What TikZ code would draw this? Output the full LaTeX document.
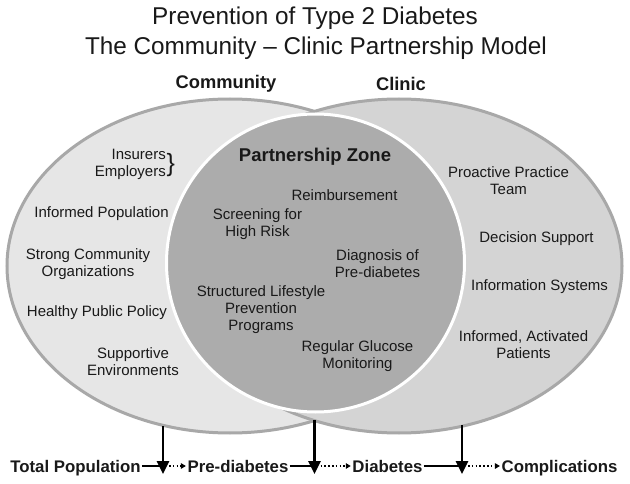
\documentclass[tikz,border=0pt]{standalone}
\usepackage{fontspec}
\setmainfont{Liberation Sans}
\usetikzlibrary{arrows.meta}
\definecolor{txt}{RGB}{25,25,25}
\definecolor{edgegray}{RGB}{168,168,168}
\definecolor{zonegray}{RGB}{172,172,172}
\definecolor{leftgray}{RGB}{230,230,230}
\definecolor{rightgray}{RGB}{212,212,212}
\begin{document}
\begin{tikzpicture}[x=1pt,y=-1pt,
  body/.style={font=\fontsize{15}{17}\selectfont, text=txt, align=center, inner sep=0pt},
  head/.style={font=\fontsize{18.5}{22}\selectfont\bfseries, text=txt, inner sep=0pt},
  title/.style={font=\fontsize{24.3}{29}\selectfont, text=txt, inner sep=0pt},
  stage/.style={font=\fontsize{16.8}{20}\selectfont\bfseries, text=txt, inner sep=0pt, anchor=base},
  downarrow/.style={line width=2.8pt, -{Triangle[width=12pt,length=13pt]}},
  solidlink/.style={line width=1.6pt},
  dotlink/.style={line width=1.4pt, dash pattern=on 1.6pt off 2.2pt, -{Triangle[width=5.5pt,length=5pt]}}]
\useasboundingbox (0,0) rectangle (630,484);
\fill[white] (0,0) rectangle (630,484);
% ellipses
\fill[leftgray] (230,266) ellipse [x radius=223, y radius=167];
\draw[edgegray, line width=3pt] (230,266) ellipse [x radius=223, y radius=167];
\fill[rightgray] (399,266) ellipse [x radius=223, y radius=167];
\draw[edgegray, line width=3pt] (399,266) ellipse [x radius=223, y radius=167];
% partnership circle
\fill[zonegray] (315.5,263) circle [radius=149];
\draw[white, line width=3pt] (315.5,263) circle [radius=149];
% titles
\node[title] (t1) at (315,18) {Prevention of Type 2 Diabetes};
\node[title] (t2) at (316,48) {The Community -- Clinic Partnership Model};
\node[head, font=\fontsize{18.3}{22}\selectfont\bfseries] (comm) at (226,84) {Community};
\node[head, font=\fontsize{18.3}{22}\selectfont\bfseries] (clin) at (401,84) {Clinic};
\node[head] (pz) at (315,157) {Partnership Zone};
% community side
\node[body, align=right, anchor=east] (ie) at (166,164.5) {Insurers\\Employers};
\node[inner sep=0pt, anchor=west, text=txt, font=\fontsize{25}{25}\selectfont] (br) at ([xshift=0.5pt, yshift=-1pt]ie.east) {\}};
\node[body] (ip) at (101.5,214) {Informed Population};
\node[body] (sco) at (88,264) {Strong Community\\Organizations};
\node[body] (hpp) at (97,313) {Healthy Public Policy};
\node[body] (se) at (133,362) {Supportive\\Environments};
% partnership zone
\node[body] (rb) at (344.5,195) {Reimbursement};
\node[body] (sh) at (257.5,224.5) {Screening for\\High Risk};
\node[body] (dp) at (377.5,263.5) {Diagnosis of\\Pre-diabetes};
\node[body] (sl) at (261,310) {Structured Lifestyle\\Prevention\\Programs};
\node[body] (rg) at (357.5,356) {Regular Glucose\\Monitoring};
% clinic side
\node[body] (pt) at (508.5,181) {Proactive Practice\\Team};
\node[body] (ds) at (536.5,239) {Decision Support};
\node[body] (is) at (539.5,287) {Information Systems};
\node[body] (iap) at (523.5,344.5) {Informed, Activated\\Patients};
% bottom stages
\node[stage] (tp) at (75.5,472) {Total Population};
\node[stage] (pd) at (238,472) {Pre-diabetes};
\node[stage] (db) at (387.5,472) {Diabetes};
\node[stage] (cp) at (559.5,472) {Complications};
\coordinate (a1) at (163,466);
\coordinate (a2) at (314.5,466);
\coordinate (a3) at (462,466);
\coordinate (s1) at (163,426);
\coordinate (s2) at (314.5,420);
\coordinate (s3) at (462,425);
\coordinate (e1) at (163,474);
\coordinate (e2) at (314.5,474);
\coordinate (e3) at (462,474);
\draw[solidlink] ([xshift=1pt]tp.east |- a1) -- (a1);
\draw[solidlink] ([xshift=1pt]pd.east |- a2) -- (a2);
\draw[solidlink] ([xshift=1pt]db.east |- a3) -- (a3);
\draw[dotlink] ([xshift=6pt]a1) -- ([xshift=-1.5pt]pd.west |- a1);
\draw[dotlink] ([xshift=6pt]a2) -- ([xshift=-1.5pt]db.west |- a2);
\draw[dotlink] ([xshift=6pt]a3) -- ([xshift=-1.5pt]cp.west |- a3);
\draw[downarrow] (s1) -- (e1);
\draw[downarrow] (s2) -- (e2);
\draw[downarrow] (s3) -- (e3);
\end{tikzpicture}
\end{document}
